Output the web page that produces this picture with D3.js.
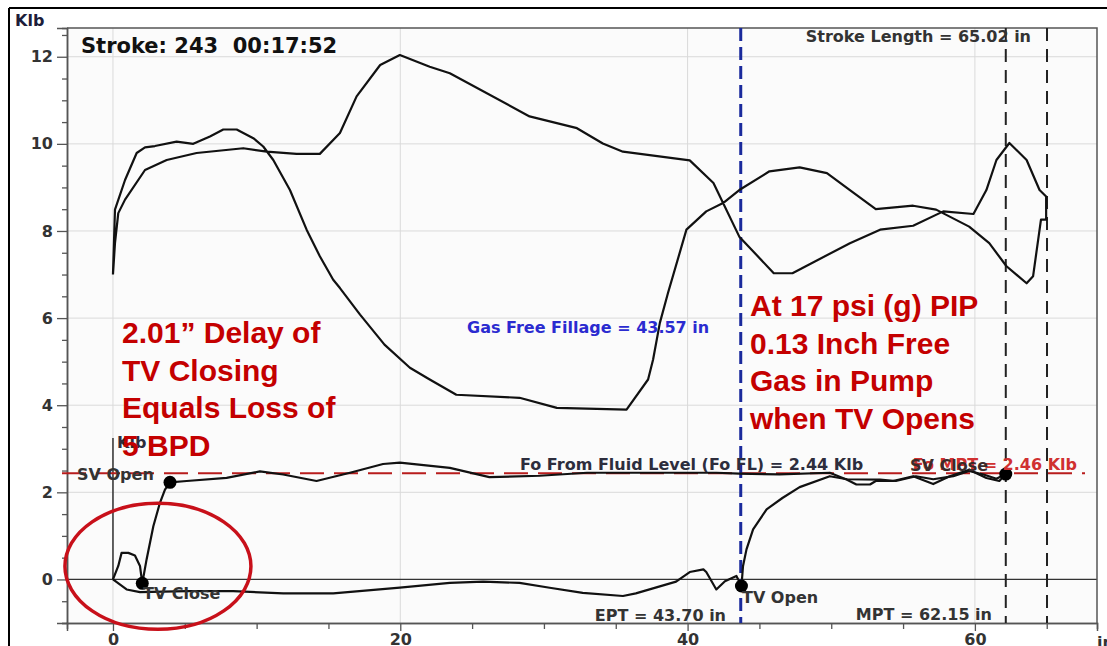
<!DOCTYPE html>
<html>
<head>
<meta charset="utf-8">
<script src="https://cdn.jsdelivr.net/npm/d3@7"></script>
<style>
  body { margin: 0; background: #fff; }
  svg { display: block; }
  text { font-family: "DejaVu Sans", sans-serif; font-weight: bold; }
</style>
</head>
<body>
<svg id="diagram" width="1107" height="646"></svg>
<script>
// Dynamometer card: surface card + pump card

// ---------------------------------------------------------------- DATA
// surface card loop (in, Klb)
var surfacePos = [0, 0.14, 0.84, 1.65, 2.23, 2.92, 4.43, 5.59, 6.75, 7.68, 8.61, 9.77, 10.46, 11.16, 12.32, 13.48, 14.4, 15.33, 15.8, 17.2, 18.9, 20.67, 22.05, 23.9, 28.3, 30.9, 35.75, 37.25, 37.6, 38.07, 38.64, 39.92, 41.3, 42.47, 43.6, 45.7, 47.8, 49.7, 51.3, 53.1, 55.7, 57.3, 59.6, 61.0, 62.2, 63.6, 64.05, 64.6, 64.96, 64.96, 64.5, 63.6, 62.4, 61.5, 60.8, 59.9, 57.8, 55.7, 53.4, 51.3, 47.3, 46.0, 43.6, 41.8, 40.15, 35.5, 34.1, 32.3, 29.0, 23.45, 22.05, 19.97, 18.6, 16.96, 15.8, 14.4, 12.78, 10.7, 9.07, 5.82, 3.74, 2.23, 0.84, 0.37, 0.14, 0];
var surfaceLoad = [7.0, 8.49, 9.17, 9.79, 9.92, 9.95, 10.05, 10.0, 10.17, 10.33, 10.33, 10.13, 9.94, 9.63, 8.94, 8.03, 7.42, 6.88, 6.69, 6.08, 5.39, 4.86, 4.59, 4.24, 4.17, 3.94, 3.9, 4.59, 5.05, 5.89, 6.58, 8.03, 8.45, 8.64, 8.94, 9.37, 9.46, 9.33, 8.94, 8.5, 8.58, 8.49, 8.1, 7.72, 7.19, 6.8, 6.96, 8.26, 8.26, 8.79, 8.94, 9.63, 10.02, 9.63, 8.94, 8.39, 8.45, 8.12, 8.03, 7.72, 7.03, 7.03, 7.87, 9.1, 9.62, 9.82, 10.01, 10.36, 10.63, 11.62, 11.77, 12.04, 11.81, 11.09, 10.25, 9.77, 9.77, 9.82, 9.9, 9.79, 9.63, 9.4, 8.72, 8.41, 7.72, 7.0];

// pump card, upper branch
var pumpTopPos = [0, 0.37, 0.6, 1.07, 1.53, 1.88, 2.04, 2.34, 2.81, 3.27, 3.62, 3.97, 5.13, 7.91, 10.23, 11.85, 14.17, 16.5, 18.8, 19.97, 23.45, 26.2, 29.7, 33, 37.4, 42.0, 43.6, 46.4, 49.9, 51.1, 51.75, 52.7, 53.1, 54.3, 55.7, 57.1, 58.25, 59.6, 60.8, 61.7, 62.15];
var pumpTopLoad = [0, 0.31, 0.61, 0.61, 0.55, 0.31, -0.09, 0.46, 1.22, 1.76, 2.06, 2.23, 2.26, 2.33, 2.48, 2.41, 2.26, 2.45, 2.65, 2.68, 2.56, 2.35, 2.38, 2.45, 2.45, 2.45, 2.43, 2.41, 2.45, 2.29, 2.18, 2.18, 2.26, 2.26, 2.37, 2.19, 2.37, 2.52, 2.33, 2.26, 2.42];

// pump card, lower branch
var pumpBotPos = [0, 0.95, 1.88, 5.13, 8.37, 11.85, 15.33, 19.97, 23.45, 25.77, 28.3, 30.4, 32.7, 35.5, 36.4, 39.2, 40.15, 41.1, 41.3, 42.0, 42.6, 43.4, 43.75, 43.86, 44.1, 44.56, 45.5, 46.6, 47.8, 49.9, 51.1, 53.4, 54.5, 55.9, 57.1, 58.5, 59.6, 60.6, 61.5, 62.15];
var pumpBotLoad = [0, -0.23, -0.29, -0.27, -0.27, -0.32, -0.32, -0.19, -0.08, -0.05, -0.08, -0.19, -0.31, -0.38, -0.32, -0.05, 0.17, 0.23, 0.17, -0.23, -0.04, 0.08, -0.15, 0.31, 0.69, 1.15, 1.61, 1.87, 2.12, 2.37, 2.3, 2.29, 2.26, 2.37, 2.3, 2.37, 2.49, 2.41, 2.31, 2.42];

// valve events (TV close, SV open, TV open, SV close)
var valvePos = [2.04, 3.97, 43.75, 62.15],
  valveLoad = [-0.09, 2.23, -0.15, 2.42];

var xMajorTicks = [0, 20, 40, 60],
  yMajorTicks = [0, 2, 4, 6, 8, 10, 12];

var fluidLevelLoad = 2.44,
  eptPos = 43.70,
  mptPos = 62.15,
  strokeLength = 65.02,
  pumpAxisTop = 3.25;

var leftNote = ['2.01\u201D Delay of', 'TV Closing', 'Equals Loss of', '5 BPD'],
  rightNote = ['At 17 psi (g) PIP', '0.13 Inch Free', 'Gas in Pump', 'when TV Opens'];

// ---------------------------------------------------------------- LAYOUT
var svg = d3.select('#diagram'),
  LEFT = 67,
  RIGHT = 1097,
  TOP = 28,
  BOTTOM = 623,
  RED = '#c40000',
  INK = '#333';

var x = d3.scaleLinear().domain([-3.2, 68.5]).range([LEFT, RIGHT]),
  y = d3.scaleLinear().domain([-1, 12.66]).range([BOTTOM, TOP]);

// outer frame
svg.append('line')
  .attr('x1', 9).attr('x2', 9).attr('y1', 8).attr('y2', 646)
  .attr('stroke', '#000').attr('stroke-width', 2);
svg.append('line')
  .attr('x1', 9).attr('x2', 1107).attr('y1', 8).attr('y2', 8)
  .attr('stroke', '#000').attr('stroke-width', 2);

// plot background
svg.append('rect')
  .attr('x', LEFT).attr('y', TOP)
  .attr('width', RIGHT - LEFT).attr('height', BOTTOM - TOP)
  .attr('fill', '#fbfbfb');

// grid
svg.append('g').selectAll('line')
  .data(yMajorTicks.filter(function(d) { return d !== 0; }))
  .enter().append('line')
  .attr('x1', LEFT).attr('x2', RIGHT)
  .attr('y1', function(d) { return y(d); })
  .attr('y2', function(d) { return y(d); })
  .attr('stroke', '#dadada').attr('stroke-width', 1);

svg.append('g').selectAll('line')
  .data(xMajorTicks)
  .enter().append('line')
  .attr('y1', TOP).attr('y2', BOTTOM)
  .attr('x1', function(d) { return x(d); })
  .attr('x2', function(d) { return x(d); })
  .attr('stroke', '#dadada').attr('stroke-width', 1);

// zero load line + pump card axis
svg.append('line')
  .attr('x1', LEFT).attr('x2', RIGHT)
  .attr('y1', y(0)).attr('y2', y(0))
  .attr('stroke', INK).attr('stroke-width', 1.3);
svg.append('line')
  .attr('x1', x(0)).attr('x2', x(0))
  .attr('y1', y(0)).attr('y2', y(pumpAxisTop))
  .attr('stroke', INK).attr('stroke-width', 1.5);

// ---------------------------------------------------------------- AXES
var yMinor = d3.range(-1, 12.6, 0.5).filter(function(d) { return d % 2 !== 0; }),
  xMinor = d3.range(0, 66, 5).filter(function(d) { return d % 20 !== 0; });

var yAxis = svg.append('g')
  .attr('transform', 'translate(' + LEFT + ',0)')
  .call(d3.axisLeft(y).tickValues(yMajorTicks).tickSize(10).tickPadding(4).tickFormat(d3.format('d')));
svg.append('g')
  .attr('transform', 'translate(' + LEFT + ',0)')
  .call(d3.axisLeft(y).tickValues(yMinor).tickSize(5).tickFormat(''));

var xAxis = svg.append('g')
  .attr('transform', 'translate(0,' + BOTTOM + ')')
  .call(d3.axisBottom(x).tickValues(xMajorTicks).tickSize(8).tickPadding(3).tickFormat(d3.format('d')));
svg.append('g')
  .attr('transform', 'translate(0,' + BOTTOM + ')')
  .call(d3.axisBottom(x).tickValues(xMinor).tickSize(6).tickFormat(''));

svg.selectAll('.domain').attr('stroke', '#555').attr('stroke-width', 1.5);
svg.selectAll('.tick line').attr('stroke', '#555').attr('stroke-width', 1.3);
svg.selectAll('.tick text')
  .style('font-family', '"DejaVu Sans", sans-serif')
  .style('font-weight', 'bold')
  .style('font-size', '16px')
  .attr('fill', INK);

// plot border (top/right)
svg.append('path')
  .attr('d', 'M' + LEFT + ',' + TOP + 'H' + RIGHT + 'V' + BOTTOM)
  .attr('fill', 'none').attr('stroke', '#555').attr('stroke-width', 1.5);

svg.append('text')
  .attr('x', 15).attr('y', 26)
  .style('font-size', '16px').attr('fill', '#1d1d3a')
  .text('Klb');

svg.append('text')
  .attr('x', 1097).attr('y', 648)
  .style('font-size', '16px').attr('fill', INK)
  .text('in');

// ---------------------------------------------------------------- MARKERS
// fluid level load (red dashed)
svg.append('line')
  .attr('x1', 62).attr('x2', 1085)
  .attr('y1', y(fluidLevelLoad)).attr('y2', y(fluidLevelLoad))
  .attr('stroke', '#b81c1c').attr('stroke-width', 2)
  .attr('stroke-dasharray', '24,10');

// EPT (blue dashed)
svg.append('line')
  .attr('x1', x(eptPos)).attr('x2', x(eptPos))
  .attr('y1', TOP).attr('y2', BOTTOM)
  .attr('stroke', '#1a2a9c').attr('stroke-width', 3)
  .attr('stroke-dasharray', '13,6');

// MPT + stroke length (black dashed)
svg.append('g').selectAll('line')
  .data([mptPos, strokeLength])
  .enter().append('line')
  .attr('x1', function(d) { return x(d); })
  .attr('x2', function(d) { return x(d); })
  .attr('y1', TOP).attr('y2', BOTTOM)
  .attr('stroke', '#222').attr('stroke-width', 2)
  .attr('stroke-dasharray', '13,8');

// ---------------------------------------------------------------- CARDS
var line = d3.line()
  .x(function(d) { return x(d[0]); })
  .y(function(d) { return y(d[1]); });

var cards = [
  d3.zip(surfacePos, surfaceLoad),
  d3.zip(pumpTopPos, pumpTopLoad),
  d3.zip(pumpBotPos, pumpBotLoad)
];

svg.append('g').selectAll('path')
  .data(cards)
  .enter().append('path')
  .attr('d', line)
  .attr('fill', 'none')
  .attr('stroke', '#111')
  .attr('stroke-width', 2.2)
  .attr('stroke-linejoin', 'round');

svg.append('g').selectAll('circle')
  .data(d3.zip(valvePos, valveLoad))
  .enter().append('circle')
  .attr('cx', function(d) { return x(d[0]); })
  .attr('cy', function(d) { return y(d[1]); })
  .attr('r', 6.5)
  .attr('fill', '#000');

// ---------------------------------------------------------------- LABELS
function label(txt, px, py, color, anchor) {
  return svg.append('text')
    .attr('x', px).attr('y', py)
    .style('font-size', '16px')
    .style('text-anchor', anchor || 'start')
    .attr('fill', color || INK)
    .text(txt);
}

svg.append('text')
  .attr('x', 81).attr('y', 53)
  .style('font-size', '21px')
  .style('white-space', 'pre')
  .attr('fill', '#111')
  .text('Stroke: 243  00:17:52');

label('Stroke Length = ' + strokeLength.toFixed(2) + ' in', 1031, 42, INK, 'end');
label('Gas Free Fillage = 43.57 in', 467, 333, '#2b2bd0');
label('Fo From Fluid Level (Fo FL) = ' + fluidLevelLoad.toFixed(2) + ' Klb', 520, 470, '#2d2d3d');
label('Fo MPT = 2.46 Klb', 1077, 470, '#d03030', 'end');
label('SV Close', 910, 471, '#3a2a2a');
label('SV Open', 77, 480);
label('TV Close', 143, 599);
label('TV Open', 742, 603);
label('EPT = ' + eptPos.toFixed(2) + ' in', 726, 621, INK, 'end');
label('MPT = ' + mptPos.toFixed(2) + ' in', 992, 620, INK, 'end');
label('Klb', 117, 448, '#2d2d3d');

// ---------------------------------------------------------------- ANNOTATIONS
svg.append('g').selectAll('text')
  .data(leftNote)
  .enter().append('text')
  .attr('x', 122)
  .attr('y', function(d, i) { return 343 + i * 37.5; })
  .style('font-family', '"Liberation Sans", Arial, sans-serif')
  .style('font-size', '30px')
  .attr('fill', RED)
  .text(function(d) { return d; });

svg.append('g').selectAll('text')
  .data(rightNote)
  .enter().append('text')
  .attr('x', 750)
  .attr('y', function(d, i) { return 316 + i * 37.5; })
  .style('font-family', '"Liberation Sans", Arial, sans-serif')
  .style('font-size', '30px')
  .attr('fill', RED)
  .text(function(d) { return d; });

// circle around TV closing delay
svg.append('ellipse')
  .attr('cx', x(3.13)).attr('cy', y(0.3))
  .attr('rx', 93).attr('ry', 63)
  .attr('fill', 'none')
  .attr('stroke', '#c8101a')
  .attr('stroke-width', 3.5);
</script>
</body>
</html>
